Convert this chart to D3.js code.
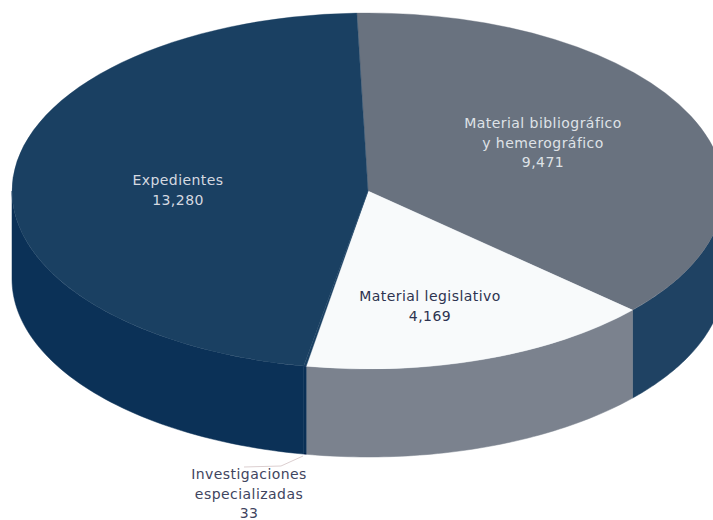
<!DOCTYPE html>
<html>
<head>
    <meta charset="utf-8">
    <title>Acervo</title>
    <script src="https://d3js.org/d3.v7.min.js"></script>
    <style>
        html, body { margin: 0; padding: 0; background: #fff; }
        svg { display: block; }
        text { font-family: "DejaVu Sans", Verdana, sans-serif; font-size: 14px; letter-spacing: 0.45px; text-anchor: middle; }
    </style>
</head>
<body>
    <svg id="pie3d" width="713" height="520"></svg>

    <script>
        // data, clockwise from the top of the pie
        const categories = ['Material bibliográfico y hemerográfico', 'Material legislativo', 'Investigaciones especializadas', 'Expedientes'];
        const values = [9471, 4169, 33, 13280];
        const valueLabels = ['9,471', '4,169', '33', '13,280'];

        // the original is drawn in perspective so slices are a bit off their true share
        const drawnDegrees = [-1.8, 132, 190, 190.4, 358.2];

        const topColors = ['#69727f', '#f8fafb', '#1a4062', '#1a4062'];
        const sideColors = ['#1f4263', '#7b828e', '#0b3157', '#0b3157'];
        const textColors = ['#dfe2e7', '#2d3350', '#3f4560', '#d5d9e0'];

        const labelLines = [['Material bibliográfico', 'y hemerográfico'], ['Material legislativo'], ['Investigaciones', 'especializadas'], ['Expedientes']];
        const labelCenters = [[543, 128], [430, 301], [249, 479], [178, 185]];

        const svg = d3.select('svg#pie3d');
        const cx = 368, cy = 191, rx = 356, ry = 178, depth = 88;

        const total = d3.sum(values);
        const pie = d3.pie().sort(null).value(d => d)(values);

        const angleScale = d3.scaleLinear()
            .domain([0, ...d3.cumsum(values)].map(v => v / total * 2 * Math.PI))
            .range(drawnDegrees.map(d => d * Math.PI / 180));

        const slices = pie.map(d => ({
            index: d.index,
            startAngle: angleScale(d.startAngle),
            endAngle: angleScale(d.endAngle)
        }));

        // front walls, only the part between 90 and 270 degrees can be seen
        const wall = d3.line().x(d => d[0]).y(d => d[1]);
        const wallPath = d => {
            const a0 = Math.max(d.startAngle, Math.PI / 2);
            const a1 = Math.min(d.endAngle, 3 * Math.PI / 2);
            if (a1 <= a0) return null;
            const steps = d3.range(0, 61).map(i => a0 + (a1 - a0) * i / 60);
            const edge = steps.map(a => [cx + rx * Math.sin(a), cy - ry * Math.cos(a)]);
            const lower = edge.slice().reverse().map(p => [p[0], p[1] + depth]);
            return wall(edge.concat(lower)) + 'Z';
        };

        svg.append('g')
            .selectAll('path')
            .data(slices)
            .enter()
            .append('path')
            .attr('d', wallPath)
            .attr('fill', d => sideColors[d.index])
            .attr('stroke', d => sideColors[d.index])
            .attr('stroke-width', 0.5);

        // top face is a circle squashed into an ellipse
        const arc = d3.arc().innerRadius(0).outerRadius(rx);
        svg.append('g')
            .attr('transform', `translate(${cx}, ${cy}) scale(1, ${ry / rx})`)
            .selectAll('path')
            .data(slices)
            .enter()
            .append('path')
            .attr('d', arc)
            .attr('fill', d => topColors[d.index])
            .attr('stroke', d => topColors[d.index])
            .attr('stroke-width', 0.5);

        // leader line for the tiny slice
        svg.append('path')
            .attr('d', 'M303,456 L281,466 L244,467')
            .attr('fill', 'none')
            .attr('stroke', '#dccfd0')
            .attr('stroke-width', 1);

        // labels
        const lineHeight = 19.5;
        const labels = svg.append('g')
            .selectAll('text')
            .data(categories)
            .enter()
            .append('text')
            .attr('fill', (d, i) => textColors[i])
            .attr('transform', (d, i) => `translate(${labelCenters[i][0]}, ${labelCenters[i][1]})`);

        labels.each(function(d, i) {
            const rows = labelLines[i].concat(valueLabels[i]);
            d3.select(this).selectAll('tspan')
                .data(rows)
                .enter()
                .append('tspan')
                .attr('x', 0)
                .attr('y', (r, j) => j * lineHeight)
                .text(r => r);
        });
    </script>
</body>
</html>
